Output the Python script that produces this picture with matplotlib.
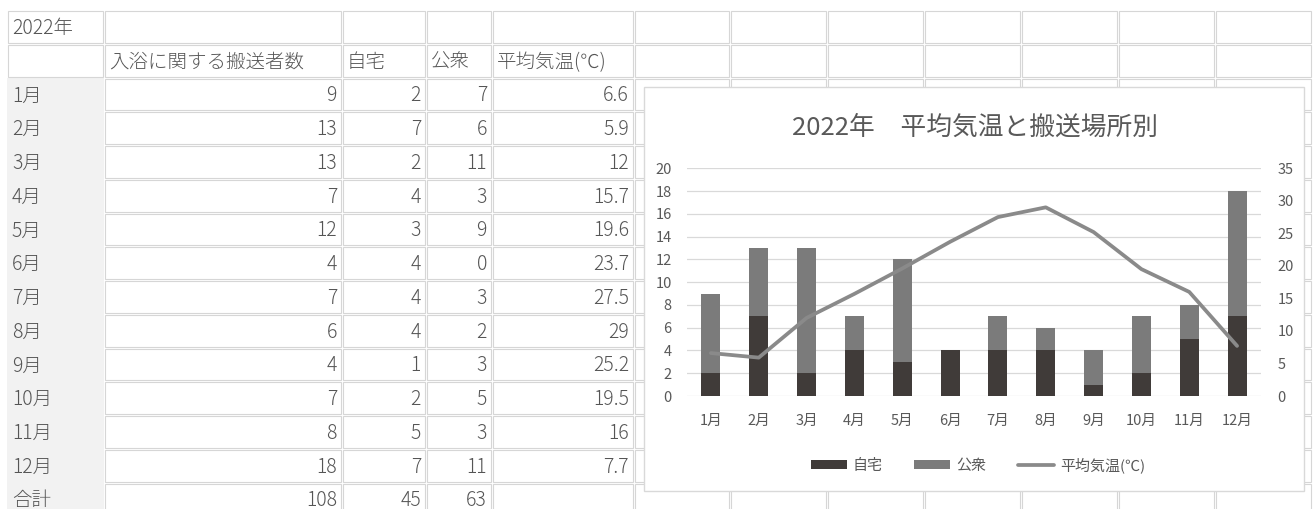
import matplotlib
matplotlib.use("Agg")
import matplotlib.pyplot as plt
from matplotlib.patches import Rectangle
import numpy as np

plt.rcParams['font.family'] = ['Noto Sans CJK JP', 'DejaVu Sans']

# ---- data ----
year_label = '2022年'
months = ['1月', '2月', '3月', '4月', '5月', '6月', '7月', '8月', '9月', '10月', '11月', '12月']
total_cases = [9, 13, 13, 7, 12, 4, 7, 6, 4, 7, 8, 18]
home_cases = [2, 7, 2, 4, 3, 4, 4, 4, 1, 2, 5, 7]
public_cases = [7, 6, 11, 3, 9, 0, 3, 2, 3, 5, 3, 11]
avg_temp = [6.6, 5.9, 12, 15.7, 19.6, 23.7, 27.5, 29, 25.2, 19.5, 16, 7.7]
headers = ['入浴に関する搬送者数', '自宅', '公衆', '平均気温(℃)']
total_label = '合計'
chart_title = '2022年\u3000平均気温と搬送場所別'

W, H = 1315, 509
fig = plt.figure(figsize=(W / 100, H / 100), dpi=100)

# ---- worksheet grid (pixel coordinates) ----
bg = fig.add_axes([0, 0, 1, 1])
bg.set_xlim(0, W)
bg.set_ylim(H, 0)
bg.axis('off')

col_edges = [7, 104, 342, 426, 492, 634, 730, 827, 924, 1021, 1118, 1215, 1312]
row_top0, row_h = 10, 33.75
n_rows = 15
grid_col = '#d6d6d6'
txt_col = '#555555'
fs_tab = 14

def row_top(k):
    return row_top0 + row_h * k

# row-header column shading for the month rows
bg.add_patch(Rectangle((col_edges[0], row_top(2)), col_edges[1] - col_edges[0],
                       H - row_top(2), facecolor='#f2f2f2', edgecolor='none', zorder=1))

for k in range(n_rows):
    for c in range(len(col_edges) - 1):
        if c == 0 and k >= 2:
            continue
        x0, x1 = col_edges[c], col_edges[c + 1]
        y0 = row_top(k)
        bg.add_patch(Rectangle((x0 + 1, y0 + 1), x1 - x0 - 2, row_h - 2,
                               facecolor='white', edgecolor=grid_col, lw=0.8, zorder=1))

def cell_text(k, c, s, align):
    y = row_top(k) + row_h / 2 + 1.5
    if align == 'left':
        x, ha = col_edges[c] + 5, 'left'
    else:
        x, ha = col_edges[c + 1] - 5, 'right'
    bg.text(x, y, s, ha=ha, va='center', fontsize=fs_tab, color=txt_col,
            fontweight='light', zorder=2)

cell_text(0, 0, year_label, 'left')
for j, h in enumerate(headers):
    cell_text(1, j + 1, h, 'left')
for i, m in enumerate(months):
    k = i + 2
    cell_text(k, 0, m, 'left')
    cell_text(k, 1, str(total_cases[i]), 'right')
    cell_text(k, 2, str(home_cases[i]), 'right')
    cell_text(k, 3, str(public_cases[i]), 'right')
    cell_text(k, 4, f'{avg_temp[i]:g}', 'right')
cell_text(14, 0, total_label, 'left')
cell_text(14, 1, str(sum(total_cases)), 'right')
cell_text(14, 2, str(sum(home_cases)), 'right')
cell_text(14, 3, str(sum(public_cases)), 'right')

# chart frame
bg.add_patch(Rectangle((644, 87), 1304 - 644, 491 - 87, facecolor='white',
                       edgecolor='#d9d9d9', lw=1.0, zorder=3))

# ---- embedded chart ----
chart_txt = '#595959'
left, right, top, bottom = 687, 1261, 168.3, 396
ax = fig.add_axes([left / W, (H - bottom) / H, (right - left) / W, (bottom - top) / H])
ax.set_facecolor('none')
x = np.arange(len(months))
bw = 0.4
b1 = ax.bar(x, home_cases, bw, color='#403b39', label='自宅', zorder=2)
b2 = ax.bar(x, public_cases, bw, bottom=home_cases, color='#7b7b7b', label='公衆', zorder=2)
ax.set_xlim(-0.5, len(months) - 0.5)
ax.set_ylim(0, 20)
ax.set_yticks(np.arange(0, 21, 2))
ax.set_xticks(x)
ax.set_xticklabels(months)
ax.grid(axis='y', color='#d9d9d9', lw=0.9, zorder=0)
ax.set_axisbelow(True)
for s in ax.spines.values():
    s.set_visible(False)
ax.tick_params(axis='both', length=0, labelsize=10.5, labelcolor=chart_txt)
ax.tick_params(axis='y', pad=11)
ax.tick_params(axis='x', pad=13)

ax2 = ax.twinx()
ln, = ax2.plot(x, avg_temp, color='#8a8a8a', lw=2.7, solid_joinstyle='round',
               solid_capstyle='round', label='平均気温(℃)', zorder=3)
ax2.set_ylim(0, 35)
ax2.set_yticks(np.arange(0, 36, 5))
for s in ax2.spines.values():
    s.set_visible(False)
ax2.tick_params(axis='y', length=0, labelsize=10.5, labelcolor=chart_txt, pad=12)

fig.text(975 / W, 1 - 128 / H, chart_title, ha='center', va='center',
         fontsize=18.5, color=chart_txt)

leg = fig.legend(handles=[b1, b2, ln], loc='center', bbox_to_anchor=(978 / W, 1 - 465 / H),
                 ncol=3, frameon=False, fontsize=10.8, labelcolor=chart_txt,
                 handlelength=2.4, handleheight=0.5, handletextpad=0.4, columnspacing=2.1)

fig.savefig('out.png', dpi=100)
